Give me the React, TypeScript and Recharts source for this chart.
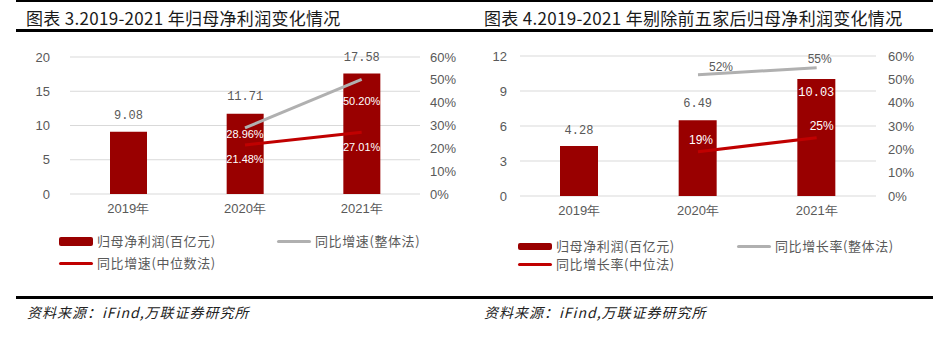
import React from 'react'
import {
  ComposedChart,
  Bar,
  Line,
  XAxis,
  YAxis,
  CartesianGrid,
  LabelList,
} from 'recharts'

const years = ['2019年', '2020年', '2021年']

// 图表3
const profit1 = [9.08, 11.71, 17.58]
const growthTotal1 = [null, 0.2896, 0.502]
const growthMedian1 = [null, 0.2148, 0.2701]

// 图表4
const profit2 = [4.28, 6.49, 10.03]
const growthTotal2 = [null, 0.52, 0.55]
const growthMedian2 = [null, 0.19, 0.25]

const leftTicks1 = [0, 5, 10, 15, 20]
const leftTicks2 = [0, 3, 6, 9, 12]
const pctTicks = [0, 0.1, 0.2, 0.3, 0.4, 0.5, 0.6]

const legend1 = ['归母净利润(百亿元)', '同比增速(整体法)', '同比增速(中位数法)']
const legend2 = ['归母净利润(百亿元)', '同比增长率(整体法)', '同比增长率(中位法)']

const BAR = '#990000'
const GRAY = '#b0b0b0'
const RED = '#c00000'
const TXT = '#595959'
const CJK = '"Noto Sans CJK SC", sans-serif'
const MONO = '"Liberation Mono", monospace'
const SANS = '"Liberation Sans", sans-serif'

const pct = (v: number) => `${Math.round(v * 100)}%`
const pct2 = (v: number) => `${(v * 100).toFixed(2)}%`

function buildRows(profit: number[], total: (number | null)[], median: (number | null)[]) {
  return years.map((y, i) => ({ year: y, profit: profit[i], total: total[i], median: median[i] }))
}

const rows1 = buildRows(profit1, growthTotal1, growthMedian1)
const rows2 = buildRows(profit2, growthTotal2, growthMedian2)

// label helper: places text at point + offset
const makeLabel = (
  fmt: (v: number) => string,
  offs: Record<number, [number, number]>,
  color: string | ((i: number) => string),
  font: string,
  size: number
) => (props: any) => {
  const { x, y, width, value, index } = props
  if (value == null) return null
  const o = offs[index] || [0, 0]
  const cx = width != null ? x + width / 2 : x
  const fill = typeof color === 'function' ? color(index) : color
  return (
    <text
      x={cx + o[0]}
      y={y + o[1]}
      textAnchor="middle"
      dominantBaseline="central"
      style={{ fontSize: size, fill, fontFamily: font }}
    >
      {fmt(value)}
    </text>
  )
}

const tickStyle = { fontSize: 13, fill: TXT, fontFamily: SANS }

function Legend({ names, left, top, gapX, rowGap, barH }: any) {
  const item = (kind: string, name: string, x: number, y: number) => (
    <div
      key={name}
      style={{ position: 'absolute', left: x, top: y, display: 'flex', alignItems: 'center', whiteSpace: 'nowrap' }}
    >
      {kind === 'bar' ? (
        <span style={{ display: 'inline-block', width: 34, height: barH, background: BAR, borderRadius: 2 }} />
      ) : (
        <span
          style={{ display: 'inline-block', width: 34, height: 3, background: kind === 'gray' ? GRAY : RED, borderRadius: 2 }}
        />
      )}
      <span style={{ marginLeft: 4, fontSize: 13, color: TXT, fontFamily: CJK, lineHeight: '16px', letterSpacing: 0.6 }}>
        {name}
      </span>
    </div>
  )
  return (
    <>
      {item('bar', names[0], left, top)}
      {item('gray', names[1], left + gapX, top)}
      {item('red', names[2], left, top + rowGap)}
    </>
  )
}

const sourceStyle: React.CSSProperties = {
  position: 'absolute',
  top: 302,
  fontSize: 14,
  fontStyle: 'italic',
  color: '#222',
  whiteSpace: 'nowrap',
  letterSpacing: 1,
}

export default function App() {
  return (
    <div style={{ position: 'absolute', left: 0, top: 0, width: 938, height: 346, background: '#fff', fontFamily: CJK }}>
      {/* rules */}
      <div style={{ position: 'absolute', left: 16, top: 0, width: 917, height: 2, background: '#000' }} />
      <div style={{ position: 'absolute', left: 16, top: 29, width: 917, height: 3, background: '#000' }} />
      <div style={{ position: 'absolute', left: 16, top: 296, width: 917, height: 3, background: '#000' }} />

      {/* titles */}
      <div style={{ position: 'absolute', left: 26, top: 5, fontSize: 17, color: '#1a1a1a', whiteSpace: 'nowrap', letterSpacing: 0.3 }}>
        图表 3.2019-2021 年归母净利润变化情况
      </div>
      <div style={{ position: 'absolute', left: 484, top: 5, fontSize: 17, color: '#1a1a1a', whiteSpace: 'nowrap', letterSpacing: 0.3 }}>
        图表 4.2019-2021 年剔除前五家后归母净利润变化情况
      </div>

      {/* chart 3 */}
      <div style={{ position: 'absolute', left: 0, top: 40 }}>
        <ComposedChart width={469} height={200} data={rows1} margin={{ top: 17, right: 9, bottom: 16, left: 20 }}>
          <CartesianGrid vertical={false} stroke="#d9d9d9" />
          <XAxis dataKey="year" axisLine={false} tickLine={false} tickSize={0} tickMargin={10} tick={tickStyle} height={30} />
          <YAxis
            domain={[0, 20]}
            ticks={leftTicks1}
            axisLine={false}
            tickLine={false}
            tickSize={0}
            tickMargin={20}
            width={50}
            tick={tickStyle}
          />
          <YAxis
            yAxisId="r"
            orientation="right"
            domain={[0, 0.6]}
            ticks={pctTicks}
            tickFormatter={pct}
            axisLine={false}
            tickLine={false}
            tickSize={0}
            tickMargin={10}
            width={40}
            tick={tickStyle}
          />
          <Bar dataKey="profit" fill={BAR} barSize={37} isAnimationActive={false}>
            <LabelList dataKey="profit" content={makeLabel((v) => v.toFixed(2), { 0: [0, -16], 1: [0, -17], 2: [0, -16] }, TXT, MONO, 12)} />
          </Bar>
          <Line yAxisId="r" dataKey="total" stroke={GRAY} strokeWidth={3} dot={false} isAnimationActive={false}>
            <LabelList dataKey="total" content={makeLabel(pct2, { 1: [0, 6], 2: [0, 22] }, '#fff', SANS, 11)} />
          </Line>
          <Line yAxisId="r" dataKey="median" stroke={RED} strokeWidth={3} dot={false} isAnimationActive={false}>
            <LabelList dataKey="median" content={makeLabel(pct2, { 1: [0, 14], 2: [0, 15] }, '#fff', SANS, 11)} />
          </Line>
        </ComposedChart>
      </div>

      {/* chart 4 */}
      <div style={{ position: 'absolute', left: 469, top: 40 }}>
        <ComposedChart width={469} height={200} data={rows2} margin={{ top: 16, right: 17, bottom: 14, left: 11 }}>
          <CartesianGrid vertical={false} stroke="#d9d9d9" />
          <XAxis dataKey="year" axisLine={false} tickLine={false} tickSize={0} tickMargin={10} tick={tickStyle} height={30} />
          <YAxis
            domain={[0, 12]}
            ticks={leftTicks2}
            axisLine={false}
            tickLine={false}
            tickSize={0}
            tickMargin={13}
            width={40}
            tick={tickStyle}
          />
          <YAxis
            yAxisId="r"
            orientation="right"
            domain={[0, 0.6]}
            ticks={pctTicks}
            tickFormatter={pct}
            axisLine={false}
            tickLine={false}
            tickSize={0}
            tickMargin={12}
            width={45}
            tick={tickStyle}
          />
          <Bar dataKey="profit" fill={BAR} barSize={38} isAnimationActive={false}>
            <LabelList
              dataKey="profit"
              content={makeLabel(
                (v) => v.toFixed(2),
                { 0: [0, -15], 1: [0, -16], 2: [0, 14] },
                (i) => (i === 2 ? '#fff' : TXT),
                MONO,
                12
              )}
            />
          </Bar>
          <Line yAxisId="r" dataKey="total" stroke={GRAY} strokeWidth={3} dot={false} isAnimationActive={false}>
            <LabelList dataKey="total" content={makeLabel(pct, { 1: [23, -8], 2: [3, -9] }, TXT, SANS, 12)} />
          </Line>
          <Line yAxisId="r" dataKey="median" stroke={RED} strokeWidth={3} dot={false} isAnimationActive={false}>
            <LabelList dataKey="median" content={makeLabel(pct, { 1: [3, -12], 2: [5, -12] }, '#fff', SANS, 12)} />
          </Line>
        </ComposedChart>
      </div>

      {/* legends */}
      <Legend names={legend1} left={59} top={233} gapX={218} rowGap={22} barH={9} />
      <Legend names={legend2} left={518} top={238} gapX={219} rowGap={18} barH={7} />

      {/* sources */}
      <div style={{ ...sourceStyle, left: 27 }}>资料来源：iFind,万联证券研究所</div>
      <div style={{ ...sourceStyle, left: 484 }}>资料来源：iFind,万联证券研究所</div>
    </div>
  )
}
